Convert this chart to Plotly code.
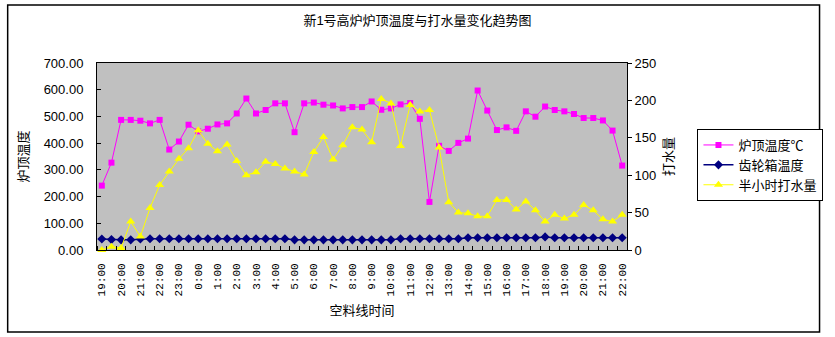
import plotly.graph_objects as go

times = ["19:00","19:30","20:00","20:30","21:00","21:30","22:00","22:30","23:00","23:30",
         "0:00","0:30","1:00","1:30","2:00","2:30","3:00","3:30","4:00","4:30",
         "5:00","5:30","6:00","6:30","7:00","7:30","8:00","8:30","9:00","9:30",
         "10:00","10:30","11:00","11:30","12:00","12:30","13:00","13:30","14:00","14:30",
         "15:00","15:30","16:00","16:30","17:00","17:30","18:00","18:30","19:00","19:30",
         "20:00","20:30","21:00","21:30","22:00"]

hour_labels = ["19:00","20:00","21:00","22:00","23:00","0:00","1:00","2:00","3:00","4:00",
               "5:00","6:00","7:00","8:00","9:00","10:00","11:00","12:00","13:00","14:00",
               "15:00","16:00","17:00","18:00","19:00","20:00","21:00","22:00"]

top_temp = [241, 327, 487, 487, 484, 474, 487, 376, 406, 469,
            444, 454, 470, 474, 511, 567, 511, 524, 549, 549,
            441, 549, 552, 544, 541, 530, 535, 535, 556, 525,
            530, 545, 550, 491, 180, 390, 371, 401, 417, 597,
            522, 449, 459, 446, 519, 499, 537, 524, 519, 509,
            494, 494, 485, 447, 316]

gear_temp = [41, 39, 38, 38, 41, 42, 42, 42, 42, 42,
             42, 42, 42, 42, 42, 42, 42, 42, 42, 42,
             38, 38, 38, 38, 38, 38, 38, 38, 38, 38,
             38, 42, 42, 42, 42, 42, 42, 42, 46, 46,
             46, 46, 46, 46, 46, 46, 49, 46, 46, 46,
             46, 46, 46, 46, 46]

water = [0, 4.5, 2.7, 38, 18, 56, 87, 105, 122, 136,
         160, 142, 132, 141, 119, 100, 104, 118, 115, 109,
         105, 101, 131, 151, 121, 140, 164, 161, 144, 202,
         196, 139, 194, 185, 187, 137, 64, 50, 49, 45,
         45, 67, 67, 54, 65, 53, 38, 47, 42, 47,
         60, 53, 41, 38, 47]

x = list(range(len(times)))
label_pos = [i for i, t in enumerate(times) if t in hour_labels and t.endswith(":00")]

CJK = "Liberation Sans, Noto Sans CJK SC"

fig = go.Figure()
fig.add_trace(go.Scatter(x=x, y=top_temp, name="炉顶温度℃", mode="lines+markers",
                         line=dict(color="#FF00FF", width=1),
                         marker=dict(symbol="square", size=6, color="#FF00FF"),
                         cliponaxis=False))
fig.add_trace(go.Scatter(x=x, y=gear_temp, name="齿轮箱温度", mode="lines+markers",
                         line=dict(color="#000080", width=1.5),
                         marker=dict(symbol="diamond", size=7, color="#000080"),
                         cliponaxis=False))
fig.add_trace(go.Scatter(x=x, y=water, name="半小时打水量", mode="lines+markers", yaxis="y2",
                         line=dict(color="#FFFF00", width=1),
                         marker=dict(symbol="triangle-up", size=8, color="#FFFF00"),
                         cliponaxis=False))

L, R, T, B = 97, 631, 63, 250
W, H = 835, 337
pw, ph = R - L, B - T

def px2x(p):
    return (p - L) / pw

def px2y(p):
    return (B - p) / ph

fig.update_layout(
    width=W, height=H,
    margin=dict(l=L, r=W - R, t=T, b=H - B, pad=0),
    paper_bgcolor="white",
    plot_bgcolor="#C0C0C0",
    font=dict(family=CJK, size=12, color="black"),
    title=dict(text="新1号高炉炉顶温度与打水量变化趋势图", x=0.5, xanchor="center",
               y=1 - 20 / H, yanchor="middle", font=dict(size=13)),
    showlegend=True,
    legend=dict(x=px2x(702), y=px2y(129), xanchor="left", yanchor="top",
                bordercolor="black", borderwidth=1, bgcolor="white",
                font=dict(size=13), itemwidth=30, tracegroupgap=0),
    xaxis=dict(range=[-0.5, len(times) - 0.5], tickmode="array",
               tickvals=label_pos, ticktext=[times[i] for i in label_pos],
               tickangle=-90, ticks="", showgrid=False, zeroline=False,
               showline=True, linecolor="black", linewidth=1, mirror=True,
               ticklabelstandoff=8,
               tickfont=dict(family="Liberation Mono", size=11),
               minor=dict(tickmode="linear", tick0=-0.5, dtick=1, ticks="inside",
                          ticklen=4, tickcolor="black", showgrid=False),
               title=dict(text="空料线时间", font=dict(size=13), standoff=10)),
    yaxis=dict(range=[0, 700], dtick=100, tickformat=".2f", showgrid=False,
               zeroline=False, showline=True, linecolor="black", linewidth=1,
               ticks="inside", ticklen=4, tickcolor="black",
               ticklabelstandoff=10,
               tickfont=dict(size=13),
               title=dict(text="炉顶温度", font=dict(size=13), standoff=12)),
    yaxis2=dict(range=[0, 250], dtick=50, overlaying="y", side="right",
                showgrid=False, zeroline=False, showline=True, linecolor="black",
                linewidth=1, ticks="outside", ticklen=4, tickcolor="black",
                tickfont=dict(size=13),
                title=dict(text="打水量", font=dict(size=13), standoff=8)),
    shapes=[dict(type="rect", xref="paper", yref="paper",
                 x0=px2x(7), x1=px2x(825), y0=px2y(332), y1=px2y(5),
                 line=dict(color="black", width=1.5), fillcolor="rgba(0,0,0,0)",
                 layer="below")],
)

fig.write_html("out.html")
